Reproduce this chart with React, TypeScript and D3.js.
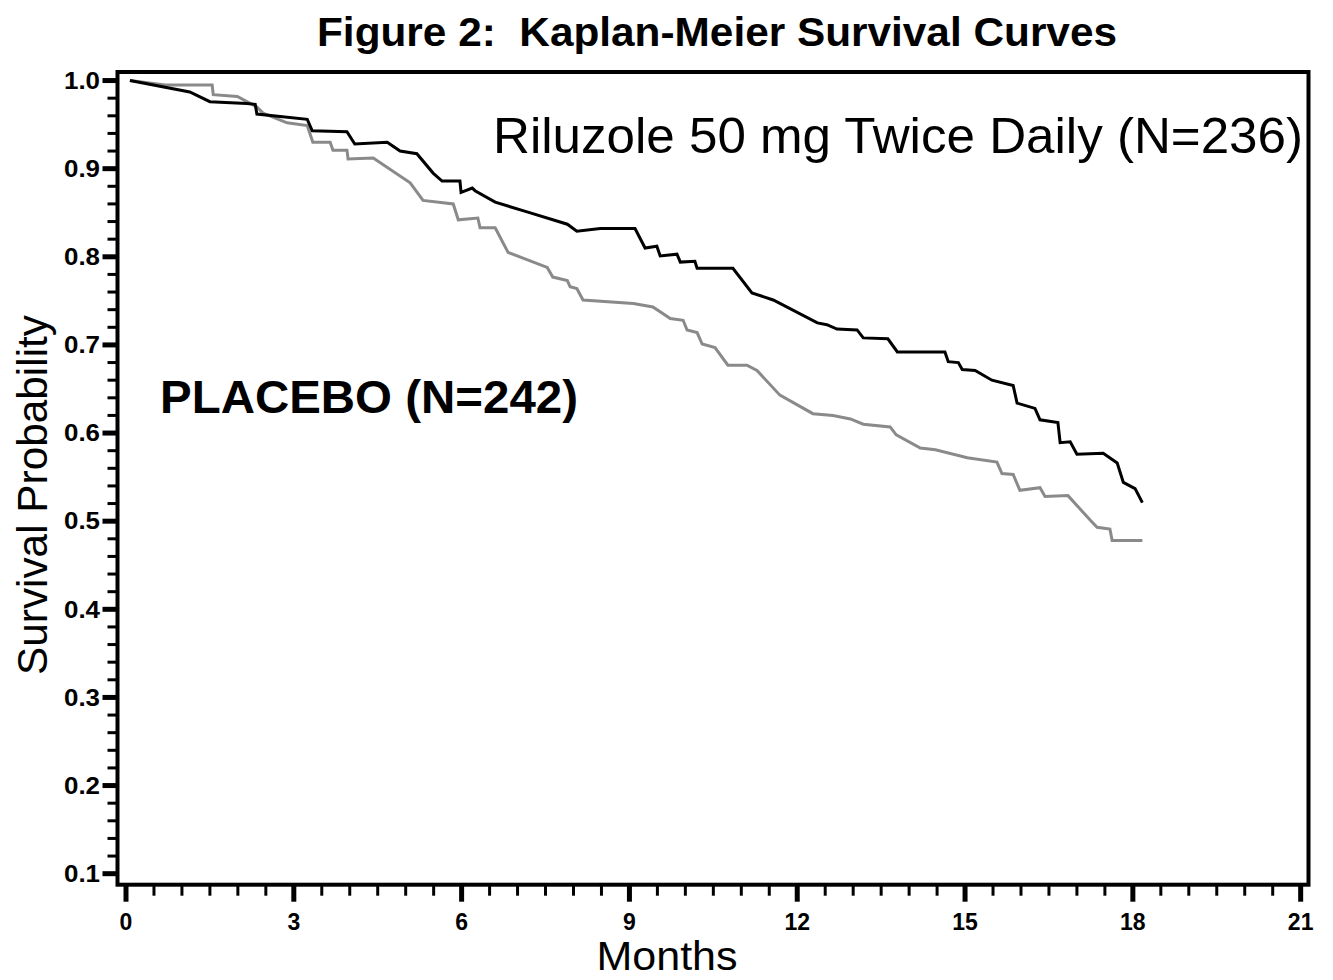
import React from "react";
import * as d3 from "d3";

const TITLE = "Figure 2:\u00A0\u00A0Kaplan-Meier Survival Curves";
const RILUZOLE_LABEL = "Riluzole 50 mg Twice Daily (N=236)";
const PLACEBO_LABEL = "PLACEBO (N=242)";
const X_AXIS_TITLE = "Months";
const Y_AXIS_TITLE = "Survival Probability";

const X_MAJOR_TICKS = [0, 3, 6, 9, 12, 15, 18, 21];
const X_TICK_LABELS = ["0", "3", "6", "9", "12", "15", "18", "21"];
const Y_MAJOR_TICKS = [0.1, 0.2, 0.3, 0.4, 0.5, 0.6, 0.7, 0.8, 0.9, 1.0];
const Y_TICK_LABELS = ["0.1", "0.2", "0.3", "0.4", "0.5", "0.6", "0.7", "0.8", "0.9", "1.0"];

const RILUZOLE_MONTHS = [
  0.07, 1.14, 1.5, 2.16, 2.31, 2.34, 3.24, 3.33, 3.95, 4.09, 4.67, 4.9, 5.2, 5.49, 5.65, 5.97,
  5.99, 6.19, 6.24, 6.6, 7.17, 7.89, 8.06, 8.48, 9.1, 9.28, 9.49, 9.55, 9.85, 9.91, 10.17, 10.21,
  10.85, 11.19, 11.57, 12.36, 12.53, 12.71, 13.07, 13.18, 13.62, 13.79, 14.64, 14.7, 14.88, 14.95,
  15.18, 15.48, 15.86, 15.93, 16.25, 16.34, 16.66, 16.7, 16.88, 17.0, 17.47, 17.72, 17.83, 18.04, 18.17,
];
const RILUZOLE_SURVIVAL = [
  1.0, 0.987, 0.976, 0.974, 0.973, 0.962, 0.956, 0.943, 0.942, 0.928, 0.93, 0.92, 0.917, 0.895, 0.886, 0.886,
  0.873, 0.878, 0.875, 0.862, 0.851, 0.837, 0.829, 0.832, 0.832, 0.81, 0.812, 0.801, 0.803, 0.794, 0.795, 0.787,
  0.787, 0.759, 0.751, 0.725, 0.723, 0.718, 0.717, 0.708, 0.707, 0.692, 0.692, 0.681, 0.68, 0.672,
  0.671, 0.66, 0.654, 0.634, 0.628, 0.615, 0.612, 0.589, 0.59, 0.576, 0.577, 0.566, 0.544, 0.537, 0.521,
];

const PLACEBO_MONTHS = [
  0.07, 0.7, 1.54, 1.56, 1.99, 2.34, 2.45, 2.88, 3.24, 3.34, 3.65, 3.7, 3.95, 3.97, 4.42, 5.08,
  5.31, 5.85, 5.94, 6.29, 6.33, 6.6, 6.83, 7.53, 7.63, 7.89, 7.94, 8.06, 8.17, 9.07, 9.42, 9.73,
  9.96, 10.03, 10.21, 10.3, 10.53, 10.76, 11.1, 11.28, 11.69, 12.28, 12.64, 12.95, 13.18, 13.66,
  13.77, 14.2, 14.47, 15.04, 15.57, 15.66, 15.86, 15.98, 16.34, 16.43, 16.84, 17.24, 17.36, 17.59,
  17.63, 18.17,
];
const PLACEBO_SURVIVAL = [
  1.0, 0.995, 0.995, 0.984, 0.982, 0.97, 0.963, 0.952, 0.949, 0.93, 0.93, 0.921, 0.921, 0.911, 0.912, 0.884,
  0.864, 0.86, 0.842, 0.844, 0.833, 0.833, 0.805, 0.788, 0.777, 0.773, 0.766, 0.764, 0.751, 0.747, 0.743, 0.73,
  0.728, 0.717, 0.714, 0.701, 0.697, 0.677, 0.677, 0.671, 0.643, 0.622, 0.62, 0.616, 0.61, 0.607,
  0.598, 0.583, 0.581, 0.572, 0.567, 0.554, 0.553, 0.535, 0.538, 0.528, 0.529, 0.501, 0.493, 0.491,
  0.478, 0.478,
];

const FONT = "'Liberation Sans', Arial, Helvetica, sans-serif";

export default function App() {
  const W = 1333;
  const H = 980;
  const left = 117.5;
  const right = 1308.5;
  const top = 72;
  const bottom = 884.7;

  const x = d3.scaleLinear().domain([-0.152, 21.14]).range([left, right]);
  const y = d3.scaleLinear().domain([0.0875, 1.0097]).range([bottom, top]);

  const xMinor = d3.range(0, 21.0001, 0.5).filter((v) => Math.abs(v / 3 - Math.round(v / 3)) > 1e-6);
  const yMinor = d3
    .range(10, 101, 2)
    .map((v) => v / 100)
    .filter((v) => Math.abs(v * 10 - Math.round(v * 10)) > 1e-6);

  const line = d3
    .line<[number, number]>()
    .x((d) => x(d[0]))
    .y((d) => y(d[1]));

  const riluzole: [number, number][] = RILUZOLE_MONTHS.map((m, i) => [m, RILUZOLE_SURVIVAL[i]]);
  const placebo: [number, number][] = PLACEBO_MONTHS.map((m, i) => [m, PLACEBO_SURVIVAL[i]]);

  return (
    <svg
      width={W}
      height={H}
      style={{ position: "absolute", left: 0, top: 0, background: "#fff" }}
      fontFamily={FONT}
    >
      <rect x={0} y={0} width={W} height={H} fill="#fff" />
      <text x={317} y={46} fontSize={41} fontWeight="bold" textLength={800} lengthAdjust="spacingAndGlyphs">
        {TITLE}
      </text>

      {/* curves */}
      <path d={line(placebo) || ""} fill="none" stroke="#8a8a8a" strokeWidth={3} strokeLinejoin="miter" />
      <path d={line(riluzole) || ""} fill="none" stroke="#000" strokeWidth={3} strokeLinejoin="miter" />

      {/* frame */}
      <rect x={left} y={top} width={right - left} height={bottom - top} fill="none" stroke="#000" strokeWidth={4} />

      {/* x ticks */}
      {X_MAJOR_TICKS.map((t, i) => (
        <g key={"xm" + t}>
          <line x1={x(t)} x2={x(t)} y1={bottom} y2={bottom + 17} stroke="#000" strokeWidth={5} />
          <text x={x(t)} y={930} fontSize={23} fontWeight="bold" textAnchor="middle">
            {X_TICK_LABELS[i]}
          </text>
        </g>
      ))}
      {xMinor.map((t) => (
        <line key={"xn" + t} x1={x(t)} x2={x(t)} y1={bottom} y2={bottom + 11} stroke="#000" strokeWidth={3} />
      ))}

      {/* y ticks */}
      {Y_MAJOR_TICKS.map((t, i) => (
        <g key={"ym" + t}>
          <line x1={left} x2={left - 15} y1={y(t)} y2={y(t)} stroke="#000" strokeWidth={5} />
          <text
            x={100}
            y={y(t)}
            dy="0.36em"
            fontSize={23}
            fontWeight="bold"
            textAnchor="end"
            textLength={36}
            lengthAdjust="spacingAndGlyphs"
          >
            {Y_TICK_LABELS[i]}
          </text>
        </g>
      ))}
      {yMinor.map((t) => (
        <line key={"yn" + t} x1={left} x2={left - 10} y1={y(t)} y2={y(t)} stroke="#000" strokeWidth={3} />
      ))}

      {/* labels */}
      <text x={493} y={153} fontSize={50} textLength={810} lengthAdjust="spacingAndGlyphs">
        {RILUZOLE_LABEL}
      </text>
      <text x={160} y={413} fontSize={46} fontWeight="bold" textLength={418} lengthAdjust="spacingAndGlyphs">
        {PLACEBO_LABEL}
      </text>
      <text
        transform={`translate(47, 495) rotate(-90)`}
        fontSize={42}
        textAnchor="middle"
        textLength={360}
        lengthAdjust="spacingAndGlyphs"
      >
        {Y_AXIS_TITLE}
      </text>
      <text x={667} y={970} fontSize={40} textAnchor="middle" textLength={141} lengthAdjust="spacingAndGlyphs">
        {X_AXIS_TITLE}
      </text>
    </svg>
  );
}
